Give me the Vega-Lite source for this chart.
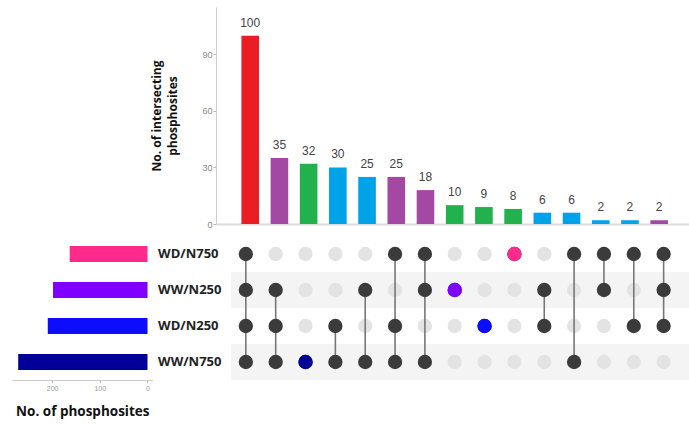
{
  "$schema": "https://vega.github.io/schema/vega-lite/v6.json",
  "padding": {"left": 12, "top": 7, "right": 0, "bottom": 4},
  "config": {
    "view": {"stroke": null},
    "font": "Open Sans",
    "axis": {"grid": false}
  },
  "datasets": {
    "combos": [
      {"col": 1, "count": 100, "degree": 4},
      {"col": 2, "count": 35, "degree": 3},
      {"col": 3, "count": 32, "degree": 1},
      {"col": 4, "count": 30, "degree": 2},
      {"col": 5, "count": 25, "degree": 2},
      {"col": 6, "count": 25, "degree": 3},
      {"col": 7, "count": 18, "degree": 3},
      {"col": 8, "count": 10, "degree": 1},
      {"col": 9, "count": 9, "degree": 1},
      {"col": 10, "count": 8, "degree": 1},
      {"col": 11, "count": 6, "degree": 2},
      {"col": 12, "count": 6, "degree": 2},
      {"col": 13, "count": 2, "degree": 2},
      {"col": 14, "count": 2, "degree": 2},
      {"col": 15, "count": 2, "degree": 3}
    ],
    "sets": [
      {"set": "WD/N750", "size": 163},
      {"set": "WW/N250", "size": 198},
      {"set": "WD/N250", "size": 209},
      {"set": "WW/N750", "size": 271}
    ],
    "matrix": [
      {"col": 1, "set": "WD/N750", "member": 1}, {"col": 1, "set": "WW/N250", "member": 1}, {"col": 1, "set": "WD/N250", "member": 1}, {"col": 1, "set": "WW/N750", "member": 1},
      {"col": 2, "set": "WD/N750", "member": 0}, {"col": 2, "set": "WW/N250", "member": 1}, {"col": 2, "set": "WD/N250", "member": 1}, {"col": 2, "set": "WW/N750", "member": 1},
      {"col": 3, "set": "WD/N750", "member": 0}, {"col": 3, "set": "WW/N250", "member": 0}, {"col": 3, "set": "WD/N250", "member": 0}, {"col": 3, "set": "WW/N750", "member": 1},
      {"col": 4, "set": "WD/N750", "member": 0}, {"col": 4, "set": "WW/N250", "member": 0}, {"col": 4, "set": "WD/N250", "member": 1}, {"col": 4, "set": "WW/N750", "member": 1},
      {"col": 5, "set": "WD/N750", "member": 0}, {"col": 5, "set": "WW/N250", "member": 1}, {"col": 5, "set": "WD/N250", "member": 0}, {"col": 5, "set": "WW/N750", "member": 1},
      {"col": 6, "set": "WD/N750", "member": 1}, {"col": 6, "set": "WW/N250", "member": 0}, {"col": 6, "set": "WD/N250", "member": 1}, {"col": 6, "set": "WW/N750", "member": 1},
      {"col": 7, "set": "WD/N750", "member": 1}, {"col": 7, "set": "WW/N250", "member": 1}, {"col": 7, "set": "WD/N250", "member": 0}, {"col": 7, "set": "WW/N750", "member": 1},
      {"col": 8, "set": "WD/N750", "member": 0}, {"col": 8, "set": "WW/N250", "member": 1}, {"col": 8, "set": "WD/N250", "member": 0}, {"col": 8, "set": "WW/N750", "member": 0},
      {"col": 9, "set": "WD/N750", "member": 0}, {"col": 9, "set": "WW/N250", "member": 0}, {"col": 9, "set": "WD/N250", "member": 1}, {"col": 9, "set": "WW/N750", "member": 0},
      {"col": 10, "set": "WD/N750", "member": 1}, {"col": 10, "set": "WW/N250", "member": 0}, {"col": 10, "set": "WD/N250", "member": 0}, {"col": 10, "set": "WW/N750", "member": 0},
      {"col": 11, "set": "WD/N750", "member": 0}, {"col": 11, "set": "WW/N250", "member": 1}, {"col": 11, "set": "WD/N250", "member": 1}, {"col": 11, "set": "WW/N750", "member": 0},
      {"col": 12, "set": "WD/N750", "member": 1}, {"col": 12, "set": "WW/N250", "member": 0}, {"col": 12, "set": "WD/N250", "member": 0}, {"col": 12, "set": "WW/N750", "member": 1},
      {"col": 13, "set": "WD/N750", "member": 1}, {"col": 13, "set": "WW/N250", "member": 1}, {"col": 13, "set": "WD/N250", "member": 0}, {"col": 13, "set": "WW/N750", "member": 0},
      {"col": 14, "set": "WD/N750", "member": 1}, {"col": 14, "set": "WW/N250", "member": 0}, {"col": 14, "set": "WD/N250", "member": 1}, {"col": 14, "set": "WW/N750", "member": 0},
      {"col": 15, "set": "WD/N750", "member": 1}, {"col": 15, "set": "WW/N250", "member": 1}, {"col": 15, "set": "WD/N250", "member": 1}, {"col": 15, "set": "WW/N750", "member": 0}
    ]
  },
  "columns": 2,
  "spacing": {"row": 12, "column": 63},
  "bounds": "flush",
  "align": "each",
  "resolve": {"scale": {"color": "independent"}},
  "concat": [
    {
      "width": 140.6,
      "height": 217,
      "data": {"values": []},
      "mark": {"type": "point", "opacity": 0},
      "encoding": {}
    },
    {
      "width": 473,
      "height": 217,
      "data": {"name": "combos"},
      "encoding": {
        "x": {
          "field": "col", "type": "quantitative",
          "scale": {"domain": [0, 15.85], "nice": false, "zero": false},
          "axis": {"labels": false, "ticks": false, "title": null, "domainColor": "#dcdcdc", "domainWidth": 2}
        },
        "y": {
          "field": "count", "type": "quantitative",
          "scale": {"domain": [0, 115.2], "nice": false},
          "axis": {
            "values": [0, 30, 60, 90],
            "domainColor": "#cfcfcf",
            "tickColor": "#bbbbbb",
            "tickSize": 3,
            "labelFont": "Liberation Sans",
            "labelFontSize": 9,
            "labelColor": "#888888",
            "labelPadding": 1,
            "title": ["No. of intersecting", "phosphosites"],
            "titleFont": "Open Sans",
            "titleFontSize": 12,
            "titleFontWeight": "bold",
            "titleColor": "#111111",
            "titleLineHeight": 16,
            "titlePadding": 22
          }
        }
      },
      "layer": [
        {
          "mark": {"type": "bar", "size": 17.6},
          "encoding": {
            "color": {
              "field": "degree", "type": "ordinal",
              "scale": {"domain": [1, 2, 3, 4], "range": ["#22B14C", "#00A2E8", "#A349A4", "#ED1C24"]},
              "legend": null
            }
          }
        },
        {
          "mark": {"type": "text", "dy": -9, "baseline": "alphabetic", "font": "Liberation Sans", "fontSize": 12, "color": "#444444"},
          "encoding": {"text": {"field": "count", "type": "quantitative"}}
        }
      ]
    },
    {
      "width": 140.6,
      "height": 144,
      "data": {"name": "sets"},
      "mark": {"type": "bar", "height": {"band": 0.44}},
      "encoding": {
        "y": {
          "field": "set", "type": "nominal",
          "scale": {"domain": ["WD/N750", "WW/N250", "WD/N250", "WW/N750"], "paddingInner": 0, "paddingOuter": 0},
          "axis": {
            "orient": "right", "title": null, "domain": false, "ticks": false,
            "labelPadding": 5, "labelFont": "Open Sans", "labelFontSize": 13,
            "labelFontWeight": "bold", "labelColor": "#222222"
          }
        },
        "x": {
          "field": "size", "type": "quantitative",
          "scale": {"domain": [-10.7, 284], "reverse": true, "nice": false},
          "axis": {
            "values": [0, 100, 200],
            "domainColor": "#cccccc",
            "tickColor": "#bbbbbb",
            "tickSize": 3,
            "labelFont": "Liberation Sans",
            "labelFontSize": 7,
            "labelColor": "#999999",
            "labelPadding": 1,
            "labelFlush": false,
            "title": "No. of phosphosites",
            "titleFont": "Open Sans",
            "titleFontSize": 13.5,
            "titleFontWeight": "bold",
            "titleColor": "#111111",
            "titlePadding": 13
          }
        },
        "x2": {"datum": 0},
        "color": {
          "field": "set", "type": "nominal",
          "scale": {"domain": ["WD/N750", "WW/N250", "WD/N250", "WW/N750"], "range": ["#FF2A8C", "#7F00FF", "#0C0CFF", "#000099"]},
          "legend": null
        }
      }
    },
    {
      "width": 473,
      "height": 144,
      "layer": [
        {
          "data": {"name": "sets"},
          "transform": [{"filter": "datum.set == 'WW/N250' || datum.set == 'WW/N750'"}],
          "mark": {"type": "rect", "color": "#f4f4f4"},
          "encoding": {
            "x": {"datum": 0.5, "type": "quantitative", "scale": {"domain": [0, 15.85], "nice": false, "zero": false}, "axis": null},
            "x2": {"datum": 15.85},
            "y": {"field": "set", "type": "nominal", "scale": {"domain": ["WD/N750", "WW/N250", "WD/N250", "WW/N750"], "paddingInner": 0, "paddingOuter": 0}, "axis": null}
          }
        },
        {
          "data": {"name": "matrix"},
          "transform": [{"filter": "datum.member == 0"}],
          "mark": {"type": "circle", "size": 205, "opacity": 1, "color": "#e3e3e3"},
          "encoding": {
            "x": {"field": "col", "type": "quantitative", "axis": null},
            "y": {"field": "set", "type": "nominal", "axis": null}
          }
        },
        {
          "data": {"name": "matrix"},
          "transform": [{"filter": "datum.member == 1"}],
          "mark": {"type": "line", "color": "#777777", "strokeWidth": 1.6},
          "encoding": {
            "x": {"field": "col", "type": "quantitative", "axis": null},
            "y": {"field": "set", "type": "nominal", "axis": null},
            "detail": {"field": "col", "type": "nominal"}
          }
        },
        {
          "data": {"name": "matrix"},
          "transform": [{"filter": "datum.member == 1"}],
          "mark": {"type": "circle", "size": 205, "opacity": 1, "color": "#3b3b3b"},
          "encoding": {
            "x": {"field": "col", "type": "quantitative", "axis": null},
            "y": {"field": "set", "type": "nominal", "axis": null}
          }
        },
        {
          "data": {"name": "matrix"},
          "transform": [
            {"lookup": "col", "from": {"data": {"name": "combos"}, "key": "col", "fields": ["degree"]}},
            {"filter": "datum.member == 1 && datum.degree == 1"}
          ],
          "mark": {"type": "circle", "size": 205, "opacity": 1},
          "encoding": {
            "x": {"field": "col", "type": "quantitative", "axis": null},
            "y": {"field": "set", "type": "nominal", "axis": null},
            "color": {
              "field": "set", "type": "nominal",
              "scale": {"domain": ["WD/N750", "WW/N250", "WD/N250", "WW/N750"], "range": ["#FF2A8C", "#7F00FF", "#0C0CFF", "#000099"]},
              "legend": null
            }
          }
        }
      ]
    }
  ]
}
